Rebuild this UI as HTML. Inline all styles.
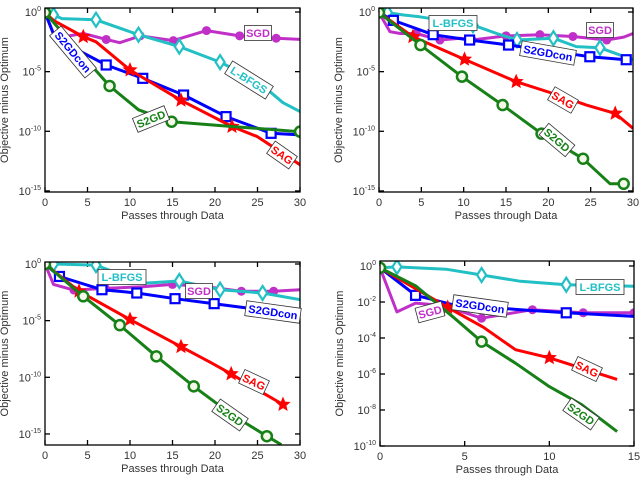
<!DOCTYPE html>
<html><head><meta charset="utf-8">
<style>
body{margin:0;background:#fff;}
svg{display:block;font-family:"Liberation Sans",sans-serif;}
</style></head>
<body>
<svg id="chart" width="640" height="478" viewBox="0 0 640 478" xmlns="http://www.w3.org/2000/svg"></svg>
<script>
// ---- data: x (passes) and log10(objective minus optimum) ----
// Panel 1
const p1SgdX=[0,1.2,4.5,7.2,8.8,11.2,15.1,19,22.9,27.2,30];
const p1SgdY=[-0.05,-2.2,-1.8,-2.3,-2.57,-2.0,-2.4,-1.56,-2.0,-2.2,-2.3];
const p1LbfgsX=[0,1,2,6,11,15.8,20.6,25,28,30];
const p1LbfgsY=[-0.05,-0.25,-0.55,-0.65,-1.9,-2.9,-4.2,-5.8,-7.6,-8.35];
const p1ConX=[0,1.2,7.2,11.5,16.3,21.3,26.6,30];
const p1ConY=[-0.05,-2.2,-4.44,-5.56,-6.96,-8.77,-10.17,-10.3];
const p1SagX=[0,1,4.5,6,10,16,22,25,30];
const p1SagY=[-0.05,-0.7,-2.07,-2.5,-4.86,-7.4,-9.6,-10.45,-12.8];
const p1S2gdX=[0,2.5,7.6,11,14.9,22,30];
const p1S2gdY=[-0.05,-2.1,-6.2,-8.2,-9.2,-9.6,-10.03];
// Panel 2
const p2SgdX=[0,1.3,2.5,4.4,7.2,9.6,11,15,19,22.9,26.9,28.9,30];
const p2SgdY=[-0.05,-1.65,-1.8,-1.8,-2.35,-2.2,-2.35,-2.0,-1.9,-2.05,-2.35,-2.1,-1.8];
const p2LbfgsX=[0,1,2.9,4.8,11.1,13.9,16.3,20.6,23.3,26.1,30];
const p2LbfgsY=[-0.05,-0.05,-0.25,-0.4,-1.1,-1.8,-2.35,-2.2,-2.9,-3.0,-4.0];
const p2ConX=[0,1.7,6.4,10.7,15.3,24.9,29.2];
const p2ConY=[-0.05,-0.7,-1.9,-2.35,-2.77,-3.75,-4.0];
const p2SagX=[0,4,10.1,16.2,21.3,24.5,27.9,30];
const p2SagY=[-0.05,-2.07,-3.97,-5.84,-7.0,-7.8,-8.5,-9.75];
const p2S2gdX=[0,4.9,9.8,14.6,19.2,24.1,27.3,28.9];
const p2S2gdY=[-0.05,-2.77,-5.42,-7.8,-10.2,-12.3,-14.4,-14.4];
// Panel 3
const p3SgdX=[0,1,3.4,7.1,11.5,15,19,23.1,26.9,30];
const p3SgdY=[0,-1.8,-2.3,-2.15,-2.0,-1.8,-2.0,-2.4,-2.4,-2.27];
const p3LbfgsX=[1,6,11.6,15.8,20.6,25.6,30];
const p3LbfgsY=[0,-0.1,-1.7,-1.5,-2.27,-2.56,-3.15];
const p3ConX=[0,1.7,6.7,10.8,15.3,19.9,24,30];
const p3ConY=[0,-1.1,-2.27,-2.56,-3.06,-3.5,-3.9,-4.5];
const p3SagX=[0,4,10,16,19.5,21.9,25,28];
const p3SagY=[0,-2.4,-4.9,-7.3,-8.7,-9.7,-11.1,-12.4];
const p3S2gdX=[0,4.5,8.8,13.1,17.5,21.8,26.1,27.8];
const p3S2gdY=[0,-2.85,-5.4,-8.15,-10.8,-13.2,-15.2,-15.95];
// Panel 4
const p4SgdX=[0,1,2.1,3.2,4.7,6,9,12,15];
const p4SgdY=[-0.1,-2.55,-2.06,-2.15,-2.5,-2.9,-2.43,-2.6,-2.6];
const p4LbfgsX=[0,1,3.9,6,8.3,11,15];
const p4LbfgsY=[-0.1,-0.05,-0.18,-0.5,-0.85,-1.04,-1.13];
const p4ConX=[0,2.1,4.3,8.3,11,15];
const p4ConY=[-0.1,-1.63,-2.15,-2.43,-2.6,-2.8];
const p4SagX=[0,4,6.1,8,10,14];
const p4SagY=[-0.1,-2.3,-3.4,-4.65,-5.1,-6.3];
const p4S2gdX=[0,2.1,4.4,6,8,10,11.9,14];
const p4S2gdY=[-0.1,-1.1,-2.9,-4.2,-5.4,-6.7,-7.7,-9.2];
// markers (indices)
const p1Marks={sgd:[3,5,6,7,8,9],lbfgs:[1,3,4,5,6],con:[2,3,4,5,6],sag:[2,4,5,6],s2gd:[0,2,4,6]};
const p2Marks={sgd:[3,4,6,7,8,9,10],lbfgs:[1,4,6,7,9],con:[1,2,3,4,5,6],sag:[1,2,3,6],s2gd:[0,1,2,3,4,5,7]};
const p3Marks={sgd:[2,3,5,7,8],lbfgs:[0,1,3,4,5],con:[1,2,3,4,5],sag:[1,2,3,5,7],s2gd:[0,1,2,3,4,6]};
const p4Marks={sgd:[5,6,7,8],lbfgs:[1,3,5],con:[1,4],sag:[1,4],s2gd:[0,3]};
const xTicks30=[0,5,10,15,20,25,30];
const xTicks15=[0,5,10,15];
const yTicks15=[0,-5,-10,-15];
const yTicks10=[0,-2,-4,-6,-8,-10];

const svg=document.getElementById('chart');
const NS='http://www.w3.org/2000/svg';
function mk(tag,attrs,parent){const e=document.createElementNS(NS,tag);for(const k in attrs)e.setAttribute(k,attrs[k]);(parent||svg).appendChild(e);return e;}

const colors={sgd:'#c030c8',lbfgs:'#22c0c4',con:'#0000ff',sag:'#ff0000',s2gd:'#178017'};
const panels=[
 {id:'top-left',x0:45,x1:300,xmax:30,yTop:8,y0:12,dec:11.93,yBot:192,xt:xTicks30,yt:yTicks15,
  d:{sgd:[p1SgdX,p1SgdY],lbfgs:[p1LbfgsX,p1LbfgsY],con:[p1ConX,p1ConY],sag:[p1SagX,p1SagY],s2gd:[p1S2gdX,p1S2gdY]},m:p1Marks,
  labels:[['S2GDcon','con',73,52,50],['SGD','sgd',258,33,0],['L-BFGS','lbfgs',249,80,32],['S2GD','s2gd',151,119,-22],['SAG','sag',282,155,35]]},
 {id:'top-right',x0:379,x1:633,xmax:30,yTop:8,y0:12,dec:11.93,yBot:192,xt:xTicks30,yt:yTicks15,
  d:{sgd:[p2SgdX,p2SgdY],lbfgs:[p2LbfgsX,p2LbfgsY],con:[p2ConX,p2ConY],sag:[p2SagX,p2SagY],s2gd:[p2S2gdX,p2S2gdY]},m:p2Marks,
  labels:[['L-BFGS','lbfgs',453,23,0],['SGD','sgd',600,30,0],['S2GDcon','con',548,53,10],['SAG','sag',563,100,30],['S2GD','s2gd',557,140,40]]},
 {id:'bottom-left',x0:45,x1:300,xmax:30,yTop:262,y0:264,dec:11.33,yBot:445,xt:xTicks30,yt:yTicks15,
  d:{sgd:[p3SgdX,p3SgdY],lbfgs:[p3LbfgsX,p3LbfgsY],con:[p3ConX,p3ConY],sag:[p3SagX,p3SagY],s2gd:[p3S2gdX,p3S2gdY]},m:p3Marks,
  labels:[['L-BFGS','lbfgs',122,277,0],['SGD','sgd',199,291,0],['S2GDcon','con',273,312,8],['SAG','sag',254,382,25],['S2GD','s2gd',230,415,35]]},
 {id:'bottom-right',x0:380,x1:634,xmax:15,yTop:261,y0:266,dec:18,yBot:446,xt:xTicks15,yt:yTicks10,
  d:{sgd:[p4SgdX,p4SgdY],lbfgs:[p4LbfgsX,p4LbfgsY],con:[p4ConX,p4ConY],sag:[p4SagX,p4SagY],s2gd:[p4S2gdX,p4S2gdY]},m:p4Marks,
  labels:[['L-BFGS','lbfgs',600,287,0],['SGD','sgd',430,312,-15],['S2GDcon','con',480,306,8],['SAG','sag',587,369,25],['S2GD','s2gd',581,414,35]]}
];

function star(g,cx,cy,r,c){let pts=[];for(let i=0;i<10;i++){const a=-Math.PI/2+i*Math.PI/5;const rr=i%2?r*0.45:r;pts.push((cx+rr*Math.cos(a)).toFixed(1)+','+(cy+rr*Math.sin(a)).toFixed(1));}
 const s=mk('polygon',{points:pts.join(' '),fill:c},g);}

panels.forEach(p=>{
 const g=mk('g',{});
 
 
 const X=v=>p.x0+(v/p.xmax)*(p.x1-p.x0);
 const Y=v=>p.y0-v*p.dec;
 const ymid=(p.yTop+p.yBot)/2;
 // ticks
 p.xt.forEach(t=>{const x=X(t);
  mk('line',{x1:x,x2:x,y1:p.yBot,y2:p.yBot-5,stroke:'#000','stroke-width':1.3},g);
  mk('line',{x1:x,x2:x,y1:p.yTop,y2:p.yTop+5,stroke:'#000','stroke-width':1.3},g);
  const tx=mk('text',{x:x,y:p.yBot+14,'font-size':11,'text-anchor':'middle',fill:'#333'},g);tx.textContent=t;
  });
 p.yt.forEach(t=>{const y=Y(t);
  mk('line',{x1:p.x0,x2:p.x0+5,y1:y,y2:y,stroke:'#000','stroke-width':1.3},g);
  mk('line',{x1:p.x1,x2:p.x1-5,y1:y,y2:y,stroke:'#000','stroke-width':1.3},g);
  const tx=mk('text',{x:p.x0-4,y:y+4,'font-size':11,'text-anchor':'end',fill:'#333'},g);
  
  const b=mk('tspan',{},tx);b.textContent='10';
  const s=mk('tspan',{dy:-5,'font-size':7},tx);s.textContent=t;});
 // axis titles
 const xt=mk('text',{x:(p.x0+p.x1)/2,y:p.yBot+27,'font-size':11,'text-anchor':'middle',fill:'#333'},g);xt.textContent='Passes through Data';
 
 const yx=p.x0-37;
 const yt=mk('text',{x:yx,y:ymid,'font-size':11,'text-anchor':'middle',fill:'#333',transform:`rotate(-90 ${yx} ${ymid})`},g);yt.textContent='Objective minus Optimum';
 
 // clip
 const cid='clip-'+p.id;const cp=mk('clipPath',{id:cid},g);mk('rect',{x:p.x0,y:p.yTop,width:p.x1-p.x0,height:p.yBot-p.yTop},cp);
 const sg=mk('g',{'clip-path':`url(#${cid})`},g);
 ['sgd','lbfgs','con','sag','s2gd'].forEach(k=>{
  const [xs,ys]=p.d[k];const c=colors[k];
  const pl=mk('polyline',{points:xs.map((x,i)=>X(x).toFixed(1)+','+Y(ys[i]).toFixed(1)).join(' '),fill:'none',stroke:c,'stroke-width':3,'stroke-linejoin':'round'},sg);
  
  p.m[k].forEach(i=>{const cx=X(xs[i]),cy=Y(ys[i]);let e;
   if(k==='sgd'){e=mk('circle',{cx,cy,r:4.5,fill:c},sg);}
   else if(k==='s2gd'){e=mk('circle',{cx,cy,r:5,fill:'#f4f8e8',stroke:c,'stroke-width':2.5},sg);}
   else if(k==='con'){e=mk('rect',{x:cx-4.5,y:cy-4.5,width:9,height:9,fill:'#fff',stroke:c,'stroke-width':2.2},sg);}
   else if(k==='lbfgs'){e=mk('polygon',{points:`${cx},${cy-7} ${cx+4.5},${cy} ${cx},${cy+7} ${cx-4.5},${cy}`,fill:'#fff',stroke:c,'stroke-width':2.2},sg);}
   else {star(sg,cx,cy,8,c);return;}
   });
 });
 // frame
 const fr=mk('rect',{x:p.x0,y:p.yTop,width:p.x1-p.x0,height:p.yBot-p.yTop,fill:'none',stroke:'#000','stroke-width':1.3},g);
 
 // labels
 p.labels.forEach(([txt,k,x,y,rot])=>{
  const lg=mk('g',{transform:`translate(${x} ${y}) rotate(${rot})`},g);
  
  const w=txt.length*7+6;
  mk('rect',{x:-w/2,y:-7.5,width:w,height:15,fill:'#fff',stroke:'#333','stroke-width':0.8},lg);
  const t=mk('text',{x:0,y:4,'font-size':11,'font-weight':'bold','text-anchor':'middle',fill:colors[k]},lg);t.textContent=txt;
 });
});
</script>
</body></html>
